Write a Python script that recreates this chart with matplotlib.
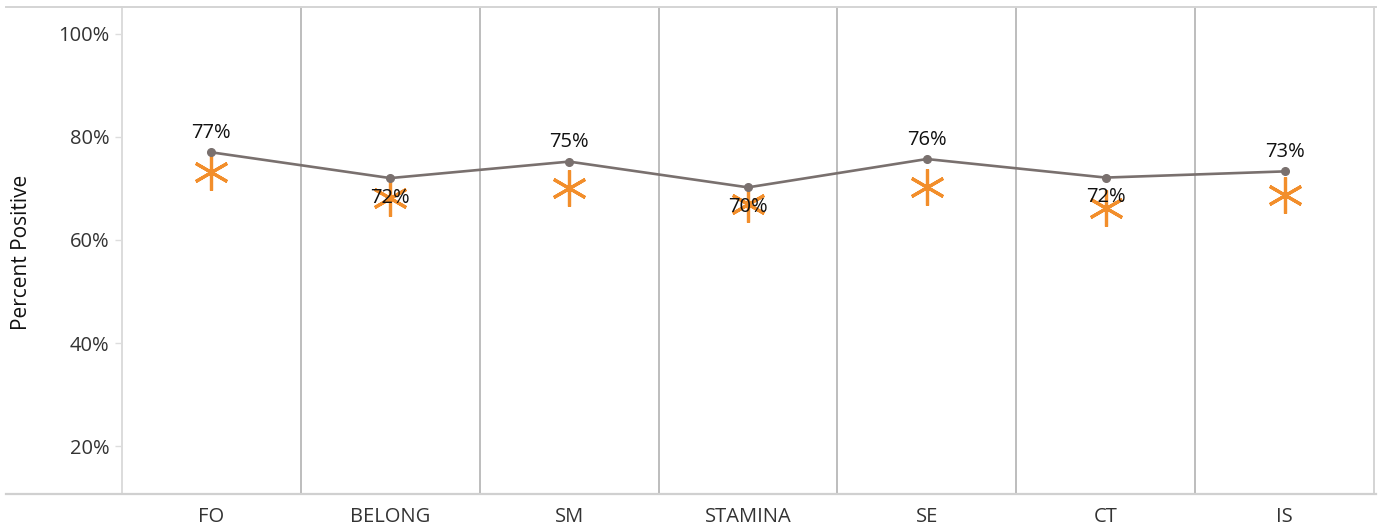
import matplotlib
matplotlib.use("Agg")
import matplotlib.pyplot as plt
import numpy as np
from matplotlib.lines import Line2D

categories = ["FO", "BELONG", "SM", "STAMINA", "SE", "CT", "IS"]
line_values = [77.0, 72.0, 75.2, 70.2, 75.7, 72.1, 73.3]
star_values = [73.2, 68.2, 70.1, 67.0, 70.3, 66.2, 68.7]
label_above = [True, False, True, False, True, False, True]
y_ticks = [20, 40, 60, 80, 100]
y_tick_labels = ["20%", "40%", "60%", "80%", "100%"]

plt.rcParams['font.family'] = ['Open Sans', 'DejaVu Sans']

W, H = 1380, 530
fig = plt.figure(figsize=(W / 100, H / 100), dpi=100)
ax = fig.add_axes([122 / W, 1 - 494 / H, (1374 - 122) / W, (494 - 7) / H])

x = np.arange(len(categories))
ax.plot(x, star_values, linestyle='none', marker=(6, 2, 0), markersize=26,
        markeredgewidth=2.3, color='#F28E2B', zorder=3)
ax.plot(x, line_values, color='#79706E', lw=1.9, marker='o', markersize=5.5,
        zorder=4)
for xi, v, above in zip(x, line_values, label_above):
    ax.annotate(f"{v:.0f}%", (xi, v), xytext=(0, 14 if above else -14),
                textcoords='offset points', ha='center', va='center',
                fontsize=14.5, color='#111111', zorder=5)

ax.set_xlim(-0.5, len(categories) - 0.5)
ax.set_ylim(10.7, 105.2)
ax.set_xticks(x)
ax.set_xticklabels(categories)
ax.set_yticks(y_ticks)
ax.set_yticklabels(y_tick_labels)
ax.set_xticks(x[:-1] + 0.5, minor=True)
ax.tick_params(axis='x', which='major', length=0, pad=9, labelsize=14.5,
               labelcolor='#333333')
ax.tick_params(axis='x', which='minor', length=0)
ax.tick_params(axis='y', length=5, color='#dddddd', width=1, pad=4,
               labelsize=14.5, labelcolor='#333333')
ax.grid(True, which='minor', axis='x', color='#bdbdbd', lw=1.4)

for side in ['top', 'bottom']:
    ax.spines[side].set_visible(False)
ax.spines['left'].set_color('#dcdcdc')
ax.spines['left'].set_linewidth(1.4)
ax.spines['right'].set_color('#d4d4d4')
ax.spines['right'].set_linewidth(1.4)

fig.add_artist(Line2D([6 / W, 1376 / W], [1 - 7 / H, 1 - 7 / H],
                      color='#d4d4d4', lw=1.4, transform=fig.transFigure))
fig.add_artist(Line2D([6 / W, 1376 / W], [1 - 494 / H, 1 - 494 / H],
                      color='#d0d0d0', lw=1.6, transform=fig.transFigure))

fig.text(22 / W, 1 - 252 / H, "Percent Positive", rotation=90,
         ha='center', va='center', fontsize=15, color='#111111')

fig.savefig("out.png", dpi=100)
